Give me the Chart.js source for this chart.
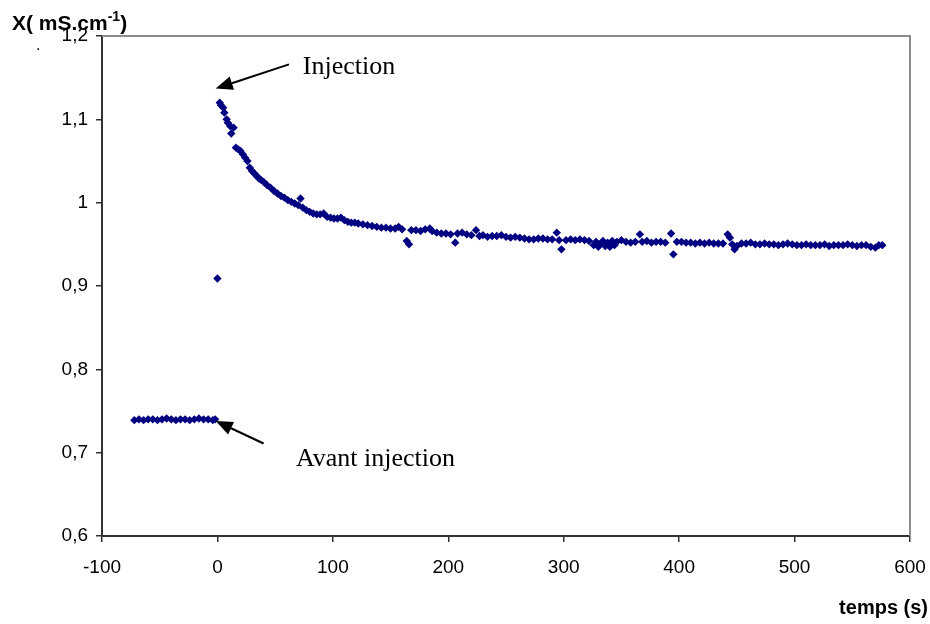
<!DOCTYPE html>
<html>
<head>
<meta charset="utf-8">
<script src="https://cdn.jsdelivr.net/npm/chart.js@4.4.1/dist/chart.umd.min.js"></script>
<style>
    html, body { margin: 0; padding: 0; background: #fff; }
    #wrap { width: 930px; height: 624px; }
</style>
</head>
<body>
<div id="wrap"><canvas id="chart" width="930" height="624"></canvas></div>
<script>
// temps (s) before the injection
const beforeTimes = [-72, -68, -64, -60, -56, -52, -48, -44, -40, -36, -32, -28, -24, -20, -16, -12, -8, -4, -2];
// conductivite X (mS.cm-1) before the injection
const beforeValues = [0.739, 0.740, 0.739, 0.740, 0.740, 0.739, 0.740, 0.741, 0.740, 0.739, 0.740, 0.740, 0.739, 0.740, 0.741, 0.740, 0.740, 0.739, 0.740];

// temps (s) after the injection
const afterTimes = [
    0, 2, 3, 5, 6, 8, 9, 11, 12, 14, 16, 18, 20, 22, 24, 26, 28, 30, 32, 34,
    36, 38, 40, 43, 46, 49, 52, 55, 58, 61, 64, 67, 70, 72, 74, 77, 80, 83, 86, 89,
    92, 95, 98, 101, 104, 107, 110, 113, 116, 119, 122, 126, 130, 134, 138, 142, 146, 150, 154, 157,
    160, 164, 166, 168, 172, 176, 180, 184, 186, 190, 194, 198, 202, 206, 208, 212, 216, 220, 224, 227,
    230, 234, 238, 242, 246, 250, 254, 258, 262, 266, 270, 274, 278, 282, 286, 290, 294, 296, 298, 302,
    306, 310, 314, 318, 322, 326, 328, 330, 332, 334, 336, 338, 340, 342, 344, 346, 350, 354, 358, 362,
    366, 368, 372, 376, 380, 384, 388, 393, 395, 398, 402, 406, 410, 414, 418, 422, 426, 430, 434, 438,
    442, 444, 446, 448, 450, 454, 458, 462, 466, 470, 474, 478, 482, 486, 490, 494, 498, 502, 506, 510,
    514, 518, 522, 526, 530, 534, 538, 542, 546, 550, 554, 558, 562, 566, 570, 573, 576
];
// conductivite X (mS.cm-1) after the injection
const afterValues = [
    0.909, 1.120, 1.117, 1.114, 1.108, 1.100, 1.096, 1.092, 1.083, 1.090, 1.066, 1.064, 1.062, 1.058, 1.054, 1.050, 1.042, 1.038, 1.035, 1.032,
    1.029, 1.027, 1.025, 1.021, 1.018, 1.014, 1.011, 1.008, 1.006, 1.003, 1.001, 0.999, 0.997, 1.005, 0.994, 0.991, 0.989, 0.987, 0.986, 0.986,
    0.987, 0.983, 0.982, 0.981, 0.981, 0.982, 0.979, 0.977, 0.976, 0.976, 0.975, 0.974, 0.973, 0.972, 0.971, 0.970, 0.970, 0.969, 0.969, 0.971,
    0.968, 0.954, 0.950, 0.967, 0.967, 0.966, 0.968, 0.969, 0.966, 0.964, 0.963, 0.963, 0.962, 0.952, 0.963, 0.964, 0.962, 0.961, 0.967, 0.960,
    0.961, 0.959, 0.960, 0.960, 0.961, 0.959, 0.958, 0.959, 0.958, 0.957, 0.956, 0.956, 0.957, 0.957, 0.956, 0.956, 0.964, 0.955, 0.944, 0.955,
    0.956, 0.955, 0.956, 0.955, 0.954, 0.949, 0.953, 0.947, 0.951, 0.954, 0.948, 0.952, 0.947, 0.954, 0.949, 0.953, 0.955, 0.953, 0.952, 0.953,
    0.962, 0.953, 0.954, 0.952, 0.953, 0.953, 0.952, 0.963, 0.938, 0.953, 0.953, 0.952, 0.952, 0.951, 0.952, 0.951, 0.952, 0.951, 0.951, 0.951,
    0.962, 0.958, 0.950, 0.944, 0.948, 0.951, 0.951, 0.952, 0.950, 0.950, 0.951, 0.950, 0.950, 0.949, 0.950, 0.951, 0.950, 0.949, 0.949, 0.950,
    0.949, 0.949, 0.949, 0.950, 0.948, 0.949, 0.949, 0.949, 0.950, 0.949, 0.948, 0.949, 0.949, 0.947, 0.946, 0.949, 0.949
];

const xTicks = [-100, 0, 100, 200, 300, 400, 500, 600];
const yTicks = [0.6, 0.7, 0.8, 0.9, 1.0, 1.1, 1.2];

// text + arrows, placed in data units
const notes = [
    { text: 'Injection', x: 74, y: 1.162, from: [62, 1.166], to: [-1.5, 1.137] },
    { text: 'Avant injection', x: 68, y: 0.692, from: [40, 0.711], to: [-1.5, 0.738] }
];

function toPoints(ts, vs) {
    return ts.map((t, i) => ({ x: t, y: vs[i] }));
}

const frameAndNotes = {
    id: 'frameAndNotes',
    beforeDatasetsDraw(chart) {
        const ctx = chart.ctx;
        const a = chart.chartArea;
        ctx.save();
        ctx.strokeStyle = '#8c8c8c';
        ctx.lineWidth = 2;
        ctx.beginPath();
        ctx.moveTo(a.left, a.top);
        ctx.lineTo(a.right, a.top);
        ctx.lineTo(a.right, a.bottom);
        ctx.stroke();
        ctx.restore();
    },
    afterDraw(chart) {
        const ctx = chart.ctx;
        const xs = chart.scales.x;
        const ys = chart.scales.y;
        ctx.save();

        notes.forEach(n => {
            ctx.font = '26px "Liberation Serif", "Times New Roman", serif';
            ctx.fillStyle = '#000';
            ctx.textAlign = 'left';
            ctx.textBaseline = 'middle';
            ctx.fillText(n.text, xs.getPixelForValue(n.x), ys.getPixelForValue(n.y));

            const x1 = xs.getPixelForValue(n.from[0]);
            const y1 = ys.getPixelForValue(n.from[1]);
            const x2 = xs.getPixelForValue(n.to[0]);
            const y2 = ys.getPixelForValue(n.to[1]);
            const ang = Math.atan2(y2 - y1, x2 - x1);
            const headLen = 17;
            const headW = 7;
            const bx = x2 - headLen * Math.cos(ang);
            const by = y2 - headLen * Math.sin(ang);
            ctx.strokeStyle = '#000';
            ctx.lineWidth = 2;
            ctx.beginPath();
            ctx.moveTo(x1, y1);
            ctx.lineTo(bx, by);
            ctx.stroke();
            ctx.beginPath();
            ctx.moveTo(x2, y2);
            ctx.lineTo(bx + headW * Math.sin(ang), by - headW * Math.cos(ang));
            ctx.lineTo(bx - headW * Math.sin(ang), by + headW * Math.cos(ang));
            ctx.closePath();
            ctx.fill();
        });

        // axis titles
        ctx.fillStyle = '#000';
        ctx.textBaseline = 'alphabetic';
        ctx.textAlign = 'left';
        ctx.font = 'bold 21px "Liberation Sans", Arial, sans-serif';
        let tx = 12;
        ctx.fillText('X( mS.cm', tx, 30);
        tx += ctx.measureText('X( mS.cm').width;
        ctx.font = 'bold 14px "Liberation Sans", Arial, sans-serif';
        ctx.fillText('-1', tx, 21);
        tx += ctx.measureText('-1').width;
        ctx.font = 'bold 21px "Liberation Sans", Arial, sans-serif';
        ctx.fillText(')', tx, 30);

        ctx.font = '16px "Liberation Sans", Arial, sans-serif';
        ctx.fillText('.', 36, 50);

        ctx.font = 'bold 20px "Liberation Sans", Arial, sans-serif';
        ctx.textAlign = 'right';
        ctx.fillText('temps (s)', 928, 614);

        ctx.restore();
    }
};

const fmt = v => (Math.round(v * 10) / 10).toString().replace('.', ',');
const tickFont = { family: '"Liberation Sans", Arial, sans-serif', size: 19 };

new Chart(document.getElementById('chart').getContext('2d'), {
    type: 'scatter',
    data: {
        datasets: [{
            label: 'avant',
            data: toPoints(beforeTimes, beforeValues),
            backgroundColor: '#000080',
            borderColor: '#000080',
            pointStyle: 'rectRot',
            pointRadius: 4.2,
            borderWidth: 0
        }, {
            label: 'apres',
            data: toPoints(afterTimes, afterValues),
            backgroundColor: '#000080',
            borderColor: '#000080',
            pointStyle: 'rectRot',
            pointRadius: 4.2,
            borderWidth: 0
        }]
    },
    options: {
        responsive: false,
        animation: false,
        layout: { padding: { left: 0, top: 36, right: 20, bottom: 0 } },
        plugins: {
            legend: { display: false },
            tooltip: { enabled: false }
        },
        scales: {
            x: {
                type: 'linear',
                min: -100,
                max: 600,
                afterBuildTicks: s => { s.ticks = xTicks.map(v => ({ value: v })); },
                afterFit: s => { s.height = 88; s.paddingLeft = 0; s.paddingRight = 0; },
                ticks: { color: '#000', font: tickFont, padding: 14, maxRotation: 0 },
                grid: { drawOnChartArea: false, drawTicks: true, tickLength: 6, color: '#333', lineWidth: 1.5 },
                border: { display: true, color: '#333', width: 2 }
            },
            y: {
                min: 0.6,
                max: 1.2,
                afterBuildTicks: s => { s.ticks = yTicks.map(v => ({ value: v })); },
                afterFit: s => { s.width = 102; s.paddingTop = 0; s.paddingBottom = 0; },
                ticks: { color: '#000', font: tickFont, padding: 8, callback: v => fmt(v) },
                grid: { drawOnChartArea: false, drawTicks: true, tickLength: 6, color: '#333', lineWidth: 1.5 },
                border: { display: true, color: '#333', width: 2 }
            }
        }
    },
    plugins: [frameAndNotes]
});
</script>
</body>
</html>
